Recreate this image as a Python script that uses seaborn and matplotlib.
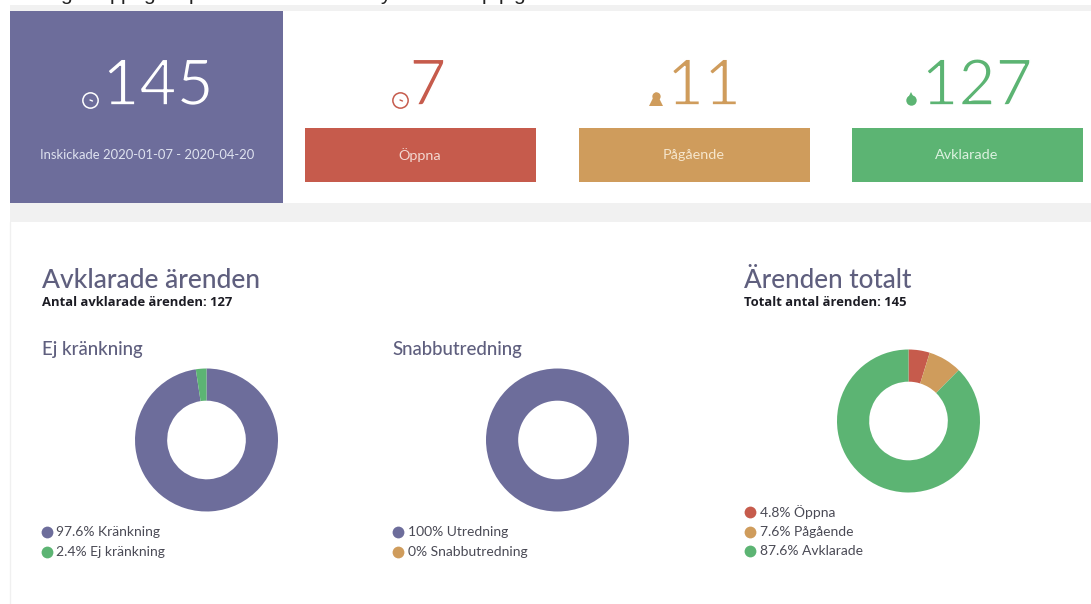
import matplotlib
matplotlib.use('Agg')
import matplotlib.pyplot as plt
import matplotlib.patheffects as pe
from matplotlib.patches import Rectangle
import seaborn as sns

W, H = 1091, 604

# data
card_values = ['145', '7', '11', '127']
card_labels = ['Inskickade 2020-01-07 - 2020-04-20', 'Öppna', 'Pågående', 'Avklarade']
ej_labels = ['Kränkning', 'Ej kränkning']
ej_pct = [97.6, 2.4]
ej_shown = ['97.6%', '2.4%']
snabb_labels = ['Utredning', 'Snabbutredning']
snabb_pct = [100, 0]
snabb_shown = ['100%', '0%']
total_labels = ['Öppna', 'Pågående', 'Avklarade']
total_pct = [4.8, 7.6, 87.6]
total_shown = ['4.8%', '7.6%', '87.6%']
top_letters = ['g', 'p', 'p', 'g', 'p', 'y', 'p', 'p', 'g']

PURPLE = '#6d6d9b'
RED = '#c65b4c'
ORANGE = '#cf9c5c'
GREEN = '#5cb473'
GREY = '#f1f1f1'
HEAD = '#5f5f7e'

sns.set_theme(style='white')
plt.rcParams['font.family'] = ['Lato', 'DejaVu Sans']

fig = plt.figure(figsize=(W / 100, H / 100), dpi=100, facecolor='white')
bg = fig.add_axes([0, 0, 1, 1])
bg.set_xlim(0, W)
bg.set_ylim(H, 0)
bg.axis('off')


def box(x, y, w, h, color):
    bg.add_patch(Rectangle((x, y), w, h, facecolor=color, edgecolor='none'))


# page background, top part
box(10, 5, W - 10, 6, GREY)
box(10, 203, W - 10, 19, GREY)
box(10, 11, 273, 192, PURPLE)
box(305, 128, 231, 54, RED)
box(579, 128, 231, 54, ORANGE)
box(852, 128, 231, 54, GREEN)
bg.plot([9.5, 9.5], [222, H], color='#f0f0f0', lw=1)

# cut off line of text at the very top, only the descenders show
top_x = [66, 115, 126, 149, 194, 385, 487, 504, 519]
for t, x in zip(top_letters, top_x):
    bg.text(x, 0.5, t, fontsize=15, color='#222222', va='baseline', ha='center',
            family=['Liberation Sans'])

# cards, the big numbers are thinned with a stroke in the background colour
num_x = [158, 428, 704, 977]
num_col = ['white', RED, ORANGE, GREEN]
num_bg = [PURPLE, 'white', 'white', 'white']
for v, x, c, b in zip(card_values, num_x, num_col, num_bg):
    bg.text(x, 105, v, fontsize=46, color=c, ha='center', va='baseline',
            path_effects=[pe.Stroke(linewidth=1.2, foreground=b)])

label_x = [147, 420, 694, 967]
label_col = ['#dfe3f0', '#f3d9d2', '#f6e6cc', '#dcf2e0']
label_size = [9.4, 10.4, 10.4, 10.4]
for t, x, c, s in zip(card_labels, label_x, label_col, label_size):
    bg.text(x, 155, t, fontsize=s, color=c, ha='center', va='center')

# small icons left of the numbers
for x, c in [(90, 'white'), (400, RED)]:
    bg.plot([x], [100], marker='o', ms=11, mfc='none', mec=c, mew=1.1)
    bg.plot([x, x + 2.5], [100, 101], color=c, lw=1)
bg.plot([655.5], [99], marker='^', ms=10, color=ORANGE, mew=0)
bg.plot([655.5], [96], marker='o', ms=6, color=ORANGE, mew=0)
bg.plot([911], [100], marker='o', ms=7.5, color=GREEN, mew=0)
bg.plot([911], [95], marker='^', ms=4, color=GREEN, mew=0)

# headings
bg.text(42, 280, 'Avklarade ärenden', fontsize=19, color=HEAD, va='center', fontweight='medium')
bg.text(42, 302.5, 'Antal avklarade ärenden: 127', fontsize=9.4, color='#1c1c24', va='center',
        fontweight='bold', family=['Open Sans'])
bg.text(744, 280, 'Ärenden totalt', fontsize=18.8, color=HEAD, va='center', fontweight='medium')
bg.text(744, 302.5, 'Totalt antal ärenden: 145', fontsize=9.4, color='#1c1c24', va='center',
        fontweight='bold', family=['Open Sans'])
bg.text(42, 349, 'Ej kränkning', fontsize=13.4, color=HEAD, va='center', fontweight='medium')
bg.text(392.5, 349, 'Snabbutredning', fontsize=13.4, color=HEAD, va='center', fontweight='medium')


def donut(cx, cy, r, vals, colors, start):
    ax = fig.add_axes([(cx - r) / W, 1 - (cy + r) / H, 2 * r / W, 2 * r / H])
    ax.pie(vals, colors=colors, startangle=start, counterclock=False, radius=1,
           wedgeprops={'width': 0.45, 'linewidth': 0})
    ax.set_xlim(-1, 1)
    ax.set_ylim(-1, 1)


def legend(x, y0, labels, shown, colors):
    for i, (l, s, c) in enumerate(zip(labels, shown, colors)):
        y = y0 + i * 19.5
        bg.plot([x], [y], marker='o', ms=8.5, color=c, mew=0)
        bg.text(x + 9.5, y, s + ' ' + l, fontsize=10, color='#4a4a55', va='center')


donut(206.5, 440, 71.5, ej_pct, [PURPLE, GREEN], 90)
donut(557.5, 440, 71.5, snabb_pct, [PURPLE, ORANGE], 90)
donut(908.5, 421, 71.5, total_pct, [RED, ORANGE, GREEN], 90)

legend(47, 532, ej_labels, ej_shown, [PURPLE, GREEN])
legend(398, 532, snabb_labels, snabb_shown, [PURPLE, ORANGE])
legend(750, 512, total_labels, total_shown, [RED, ORANGE, GREEN])

fig.savefig('out.png', dpi=100)
